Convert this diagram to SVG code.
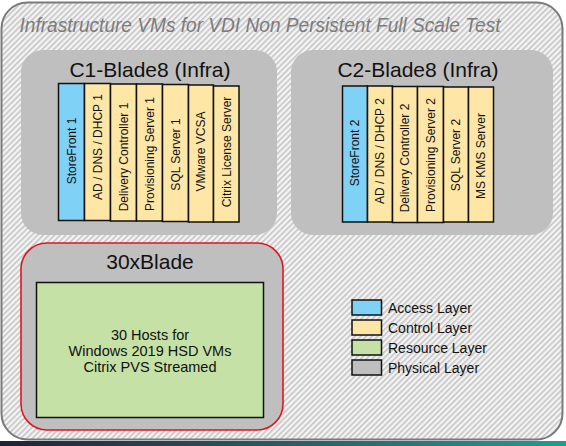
<svg xmlns="http://www.w3.org/2000/svg" width="566" height="446" viewBox="0 0 566 446">
<defs>
<pattern id="hatch" patternUnits="userSpaceOnUse" width="4" height="4" patternTransform="rotate(45)">
<rect width="4" height="4" fill="#f4f4f4"/>
<rect width="1.6" height="4" fill="#c4c4c4"/>
</pattern>
<linearGradient id="bar" x1="0" y1="0" x2="1" y2="0">
<stop offset="0" stop-color="#1e2438"/>
<stop offset="0.5" stop-color="#2c5a66"/>
<stop offset="1" stop-color="#1f9c94"/>
</linearGradient>
<style>
.blade{fill:#bfbfbf;}
.vm{stroke:#111;stroke-width:1.5;}
.acc{fill:#7fd2f6;}
.ctl{fill:#fde6a6;}
.res{fill:#c6e1a6;}
.phy{fill:#bfbfbf;}
.vt{font-family:"Liberation Sans",Arial,sans-serif;font-size:12px;fill:#111;text-anchor:middle;}
.ttl{font-family:"Liberation Sans",Arial,sans-serif;font-size:21px;fill:#111;text-anchor:middle;}
.body{font-family:"Liberation Sans",Arial,sans-serif;font-size:14.5px;fill:#111;text-anchor:middle;}
.lg{font-family:"Liberation Sans",Arial,sans-serif;font-size:14px;fill:#111;}
</style>
</defs>
<rect x="0" y="441" width="566" height="5" fill="url(#bar)"/>
<g id="frame">
<rect x="1.5" y="2.5" width="561" height="437" rx="26" fill="url(#hatch)" stroke="#7a7a7a" stroke-width="2"/>
<text x="260" y="32" font-family="Liberation Sans,Arial,sans-serif" font-size="20.5" font-style="italic" fill="#7c7c7c" text-anchor="middle" textLength="481" lengthAdjust="spacingAndGlyphs">Infrastructure VMs for VDI Non Persistent Full Scale Test</text>
</g>
<g id="c1">
<rect class="blade" x="21" y="50" width="256" height="185" rx="22"/>
<text class="ttl" x="150" y="77">C1-Blade8 (Infra)</text>
<g id="c1-vms">
<rect class="vm acc" x="58.5" y="83.5" width="26" height="137"/>
<rect class="vm ctl" x="84.5" y="83.5" width="26" height="137"/>
<rect class="vm ctl" x="110.5" y="84" width="26" height="137"/>
<rect class="vm ctl" x="136.5" y="84" width="26" height="137"/>
<rect class="vm ctl" x="162.5" y="84.5" width="26" height="137"/>
<rect class="vm ctl" x="188.5" y="85" width="25" height="137"/>
<rect class="vm ctl" x="213.5" y="86" width="25.5" height="136"/>
<text class="vt" transform="translate(71.5,151) rotate(-90)" dy="4.3">StoreFront 1</text>
<text class="vt" transform="translate(97.5,147) rotate(-90)" dy="4.3">AD / DNS / DHCP 1</text>
<text class="vt" transform="translate(123.5,157) rotate(-90)" dy="4.3">Delivery Controller 1</text>
<text class="vt" transform="translate(149.5,154) rotate(-90)" dy="4.3">Provisioning Server 1</text>
<text class="vt" transform="translate(175.5,154.5) rotate(-90)" dy="4.3">SQL Server 1</text>
<text class="vt" transform="translate(201,151.5) rotate(-90)" dy="4.3">VMware VCSA</text>
<text class="vt" transform="translate(226.2,152) rotate(-90)" dy="4.3">Citrix License Server</text>
</g>
</g>
<g id="c2">
<rect class="blade" x="291" y="50" width="262" height="185" rx="22"/>
<text class="ttl" x="418" y="77">C2-Blade8 (Infra)</text>
<g id="c2-vms">
<rect class="vm acc" x="342.5" y="86" width="25" height="136"/>
<rect class="vm ctl" x="367.5" y="86" width="25" height="136"/>
<rect class="vm ctl" x="392.5" y="86.5" width="25" height="136"/>
<rect class="vm ctl" x="417.5" y="86.5" width="26" height="136"/>
<rect class="vm ctl" x="443.5" y="87" width="25" height="135"/>
<rect class="vm ctl" x="468.5" y="87" width="25" height="135"/>
<text class="vt" transform="translate(355,153) rotate(-90)" dy="4.3">StoreFront 2</text>
<text class="vt" transform="translate(380,151) rotate(-90)" dy="4.3">AD / DNS / DHCP 2</text>
<text class="vt" transform="translate(405,158) rotate(-90)" dy="4.3">Delivery Controller 2</text>
<text class="vt" transform="translate(430.5,155) rotate(-90)" dy="4.3">Provisioning Server 2</text>
<text class="vt" transform="translate(456,155) rotate(-90)" dy="4.3">SQL Server 2</text>
<text class="vt" transform="translate(481,156) rotate(-90)" dy="4.3">MS KMS Server</text>
</g>
</g>
<g id="blade30">
<rect x="21" y="243" width="262" height="187" rx="26" fill="#bfbfbf" stroke="#e0141e" stroke-width="1.6"/>
<text class="ttl" x="150" y="269">30xBlade</text>
<rect class="vm res" x="36.5" y="282.5" width="227" height="135"/>
<text class="body" x="150" y="340">30 Hosts for</text>
<text class="body" x="150" y="356">Windows 2019 HSD VMs</text>
<text class="body" x="150" y="372">Citrix PVS Streamed</text>
</g>
<g id="legend">
<rect class="vm acc" x="352" y="300" width="29.5" height="15"/>
<rect class="vm ctl" x="352" y="320" width="29.5" height="15"/>
<rect class="vm res" x="352" y="340" width="29.5" height="15"/>
<rect class="vm phy" x="352" y="360" width="29.5" height="15"/>
<text class="lg" x="388" y="313">Access Layer</text>
<text class="lg" x="388" y="333">Control Layer</text>
<text class="lg" x="388" y="353">Resource Layer</text>
<text class="lg" x="388" y="373">Physical Layer</text>
</g>
<g id="connectors"/>
</svg>
